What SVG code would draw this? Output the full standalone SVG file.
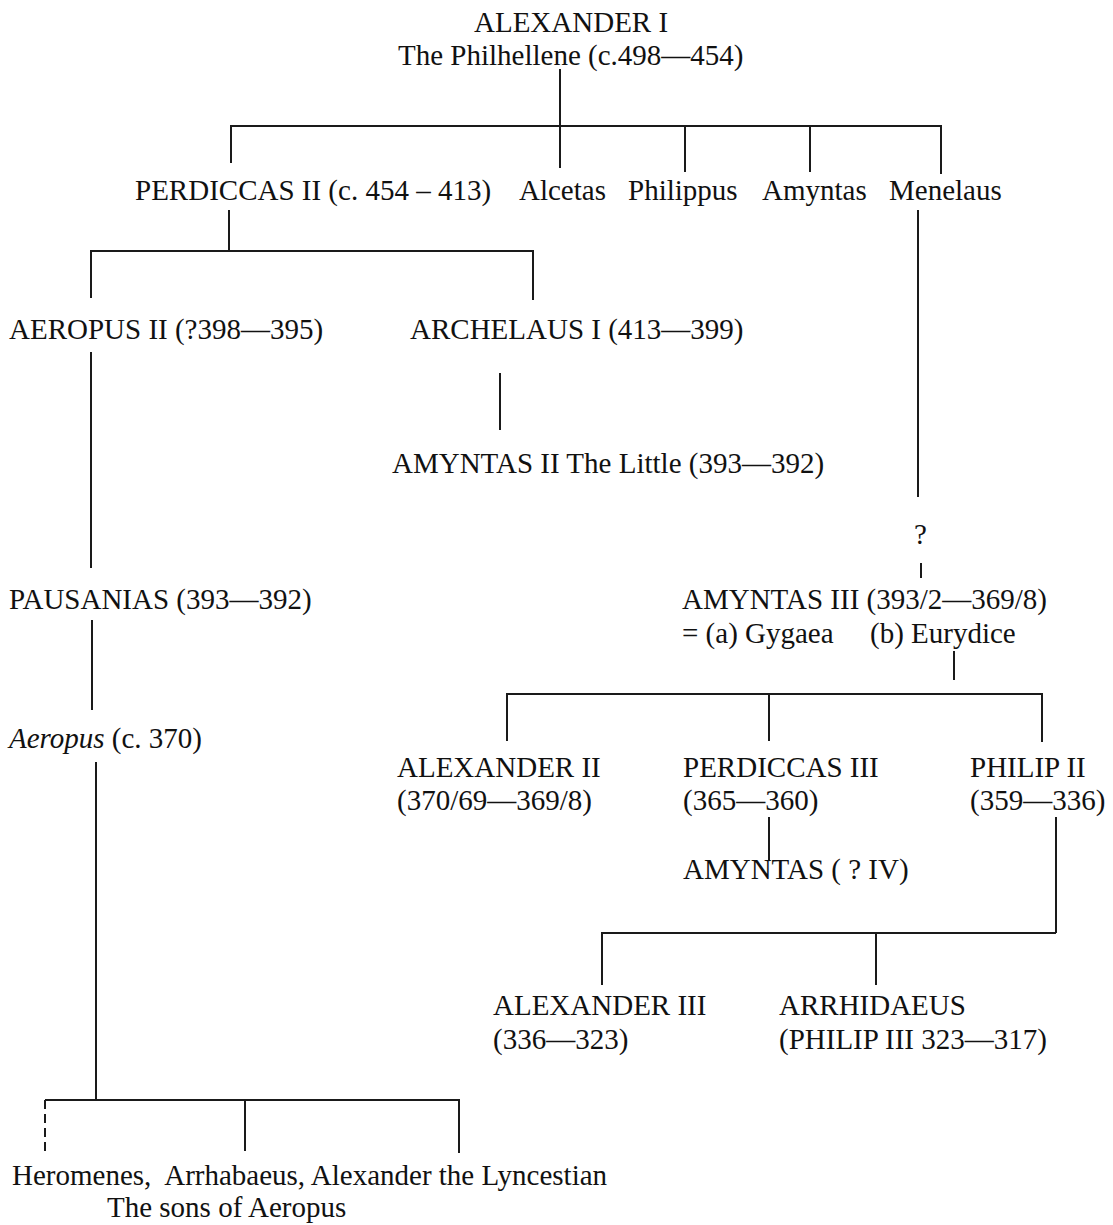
<svg xmlns="http://www.w3.org/2000/svg" width="1113" height="1225" viewBox="0 0 1113 1225">
<style>
text { font-family: "Liberation Serif", "Times New Roman", serif; font-size: 29px; fill: #111; }
.c line { stroke: #1a1a1a; stroke-width: 2; }
.dash { stroke-dasharray: 9 5; }
</style>
<rect width="1113" height="1225" fill="#fff"/>
<g id="connectors" class="c">
  <line x1="560" y1="69" x2="560" y2="126"/>
  <line x1="230" y1="126" x2="942" y2="126"/>
  <line x1="231" y1="125" x2="231" y2="163"/>
  <line x1="560" y1="125" x2="560" y2="168"/>
  <line x1="685" y1="125" x2="685" y2="172"/>
  <line x1="810" y1="125" x2="810" y2="172"/>
  <line x1="941" y1="125" x2="941" y2="174"/>
  <line x1="229" y1="210" x2="229" y2="251"/>
  <line x1="90" y1="251" x2="533" y2="251"/>
  <line x1="91" y1="250" x2="91" y2="298"/>
  <line x1="533" y1="250" x2="533" y2="300"/>
  <line x1="500" y1="373" x2="500" y2="430"/>
  <line x1="91" y1="352" x2="91" y2="568"/>
  <line x1="92" y1="620" x2="92" y2="710"/>
  <line x1="96" y1="762" x2="96" y2="1100"/>
  <line x1="45" y1="1100" x2="459" y2="1100"/>
  <line class="dash" x1="45" y1="1100" x2="45" y2="1151"/>
  <line x1="245" y1="1099" x2="245" y2="1151"/>
  <line x1="459" y1="1099" x2="459" y2="1153"/>
  <line x1="918" y1="210" x2="918" y2="497"/>
  <line x1="921" y1="563" x2="921" y2="578"/>
  <line x1="954" y1="651" x2="954" y2="680"/>
  <line x1="506" y1="694" x2="1042" y2="694"/>
  <line x1="507" y1="693" x2="507" y2="741"/>
  <line x1="769" y1="693" x2="769" y2="741"/>
  <line x1="1042" y1="693" x2="1042" y2="742"/>
  <line x1="769" y1="817" x2="769" y2="860"/>
  <line x1="1056" y1="817" x2="1056" y2="933"/>
  <line x1="601" y1="933" x2="1056" y2="933"/>
  <line x1="602" y1="932" x2="602" y2="985"/>
  <line x1="876" y1="932" x2="876" y2="985"/>
</g>
<g id="alexander1">
  <text x="474" y="32">ALEXANDER I</text>
  <text x="398" y="65">The Philhellene (c.498—454)</text>
</g>
<g id="perdiccas2"><text x="135" y="200">PERDICCAS II (c. 454 – 413)</text></g>
<g id="alcetas"><text x="519" y="200">Alcetas</text></g>
<g id="philippus"><text x="628" y="200">Philippus</text></g>
<g id="amyntas"><text x="762" y="200">Amyntas</text></g>
<g id="menelaus"><text x="889" y="200">Menelaus</text></g>
<g id="aeropus2"><text x="9" y="339">AEROPUS II (?398—395)</text></g>
<g id="archelaus1"><text x="410" y="339">ARCHELAUS I (413—399)</text></g>
<g id="amyntas2"><text x="392" y="473">AMYNTAS II The Little (393—392)</text></g>
<g id="unknown"><text x="914" y="544">?</text></g>
<g id="pausanias"><text x="9" y="609">PAUSANIAS (393—392)</text></g>
<g id="amyntas3">
  <text x="682" y="609">AMYNTAS III (393/2—369/8)</text>
  <text x="682" y="643">= (a) Gygaea</text>
  <text x="870" y="643">(b) Eurydice</text>
</g>
<g id="aeropus"><text x="9" y="748"><tspan font-style="italic">Aeropus</tspan> (c. 370)</text></g>
<g id="alexander2">
  <text x="397" y="777">ALEXANDER II</text>
  <text x="397" y="810">(370/69—369/8)</text>
</g>
<g id="perdiccas3">
  <text x="683" y="777">PERDICCAS III</text>
  <text x="683" y="810">(365—360)</text>
</g>
<g id="philip2">
  <text x="970" y="777">PHILIP II</text>
  <text x="970" y="810">(359—336)</text>
</g>
<g id="amyntas4"><text x="683" y="879">AMYNTAS ( ? IV)</text></g>
<g id="alexander3">
  <text x="493" y="1015">ALEXANDER III</text>
  <text x="493" y="1049">(336—323)</text>
</g>
<g id="arrhidaeus">
  <text x="779" y="1015">ARRHIDAEUS</text>
  <text x="779" y="1049">(PHILIP III 323—317)</text>
</g>
<g id="sons">
  <text x="12" y="1185" xml:space="preserve">Heromenes,  Arrhabaeus, Alexander the Lyncestian</text>
  <text x="107" y="1217">The sons of Aeropus</text>
</g>
</svg>
